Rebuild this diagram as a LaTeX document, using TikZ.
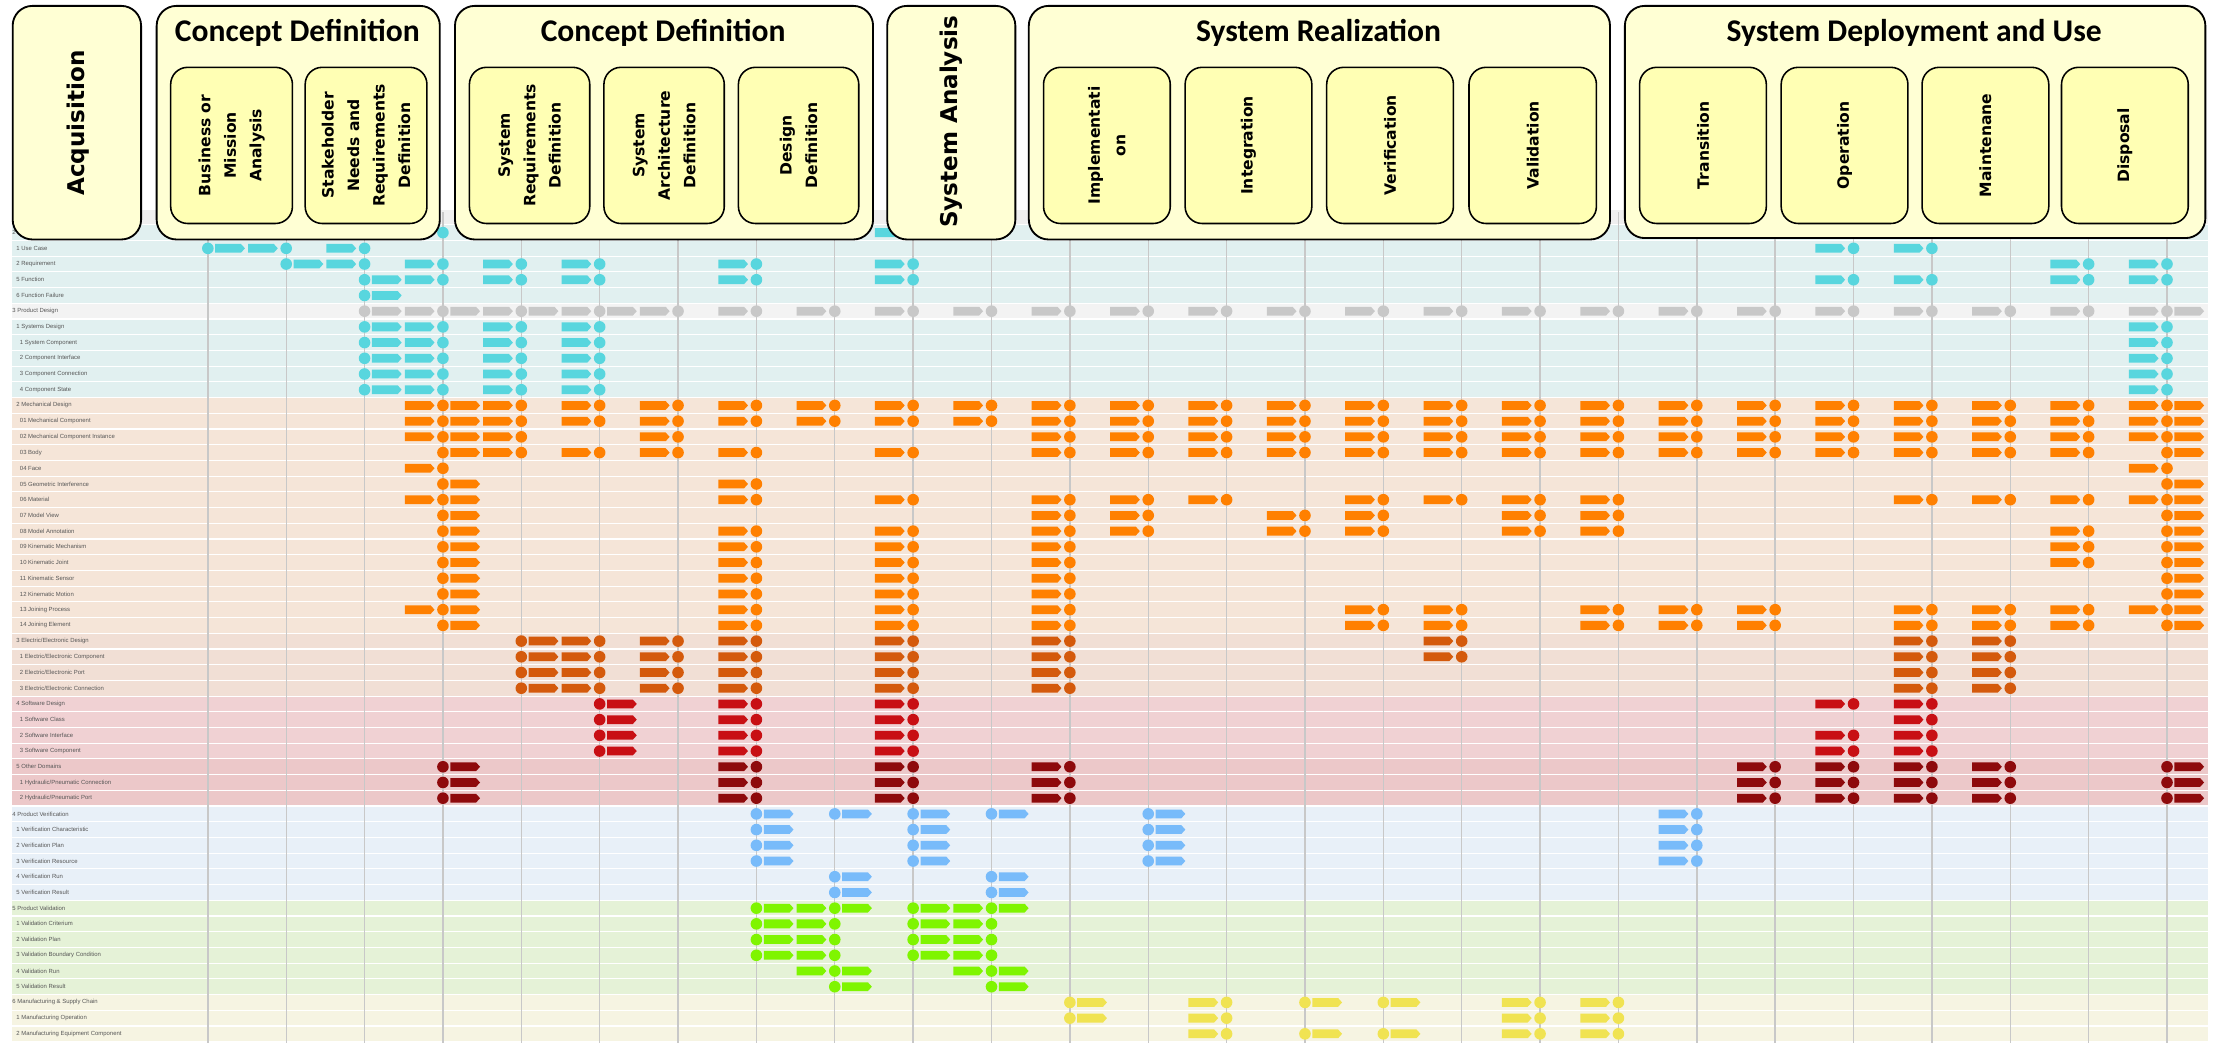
\documentclass[tikz,border=0pt]{standalone}
\usepackage{fontspec}
\setmainfont{Liberation Sans}
\newfontfamily\boxfont{DejaVu Sans}
\newfontfamily\titlefont{Carlito}
\newfontfamily\lblfont{Liberation Sans}

% marker colours
\definecolor{cyanM}{RGB}{88,214,222}
\definecolor{grayM}{RGB}{200,200,200}
\definecolor{orangeM}{RGB}{255,128,0}
\definecolor{eeM}{RGB}{212,90,12}
\definecolor{swM}{RGB}{200,15,20}
\definecolor{odM}{RGB}{142,10,12}
\definecolor{verM}{RGB}{120,187,250}
\definecolor{valM}{RGB}{127,245,0}
\definecolor{manM}{RGB}{240,227,82}
% band colours
\definecolor{bandTop}{RGB}{239,239,239}
\definecolor{bandReq}{RGB}{225,240,240}
\definecolor{bandPD}{RGB}{243,243,243}
\definecolor{bandMech}{RGB}{245,229,216}
\definecolor{bandEE}{RGB}{241,223,213}
\definecolor{bandSW}{RGB}{240,209,211}
\definecolor{bandOD}{RGB}{236,200,201}
\definecolor{bandVer}{RGB}{232,240,248}
\definecolor{bandVal}{RGB}{229,242,215}
\definecolor{bandMan}{RGB}{246,244,226}
% header and grid
\definecolor{boxOuter}{RGB}{255,255,212}
\definecolor{boxInner}{RGB}{255,255,180}
\definecolor{lineGray}{RGB}{200,200,200}
\definecolor{labelgray}{RGB}{85,85,85}

\tikzset{
  outerbox/.style={draw=black, line width=1.3pt, rounded corners=14pt, fill=boxOuter, inner sep=0pt},
  innerbox/.style={draw=black, line width=1.1pt, rounded corners=12pt, fill=boxInner, inner sep=0pt},
  phase/.style={rotate=90, align=center, inner sep=0pt,
    font=\boxfont\bfseries\fontsize{11}{18}\selectfont},
  bigphase/.style={rotate=90, inner sep=0pt,
    font=\boxfont\bfseries\fontsize{16.3}{19}\selectfont},
  grouptitle/.style={anchor=base, inner sep=0pt,
    font=\titlefont\bfseries\fontsize{22.3}{26}\selectfont},
  rowlabel/.style={anchor=west, inner sep=0pt, text=labelgray,
    font=\lblfont\fontsize{4.2}{5}\selectfont},
  vline/.style={draw=lineGray, line width=1pt},
}

% column positions of the grid
\newcommand\colx[1]{146.8+55.35*(#1)}
% markers: C = circle on a column, L/R = arrow in left/right half of a gap,
% P = right-half arrow followed by the circle on the next column
\newcommand\mkC[1]{\fill[mkcol] ({\colx{#1}},\ry) circle[radius=4.1];}
\newcommand\mkarrow[1]{\fill[mkcol] ({#1},{\ry-3.1}) -- ++(18.2,0) -- ++(2.8,3.1)
  -- ++(-2.8,3.1) -- ++(-18.2,0) -- cycle;}
\newcommand\mkL[1]{\mkarrow{\colx{#1}+5.2}}
\newcommand\mkR[1]{\mkarrow{\colx{#1}+28.4}}
\newcommand\mkP[1]{\mkR{#1}\mkC{\the\numexpr#1+1\relax}}
\def\mkparse#1#2\relax{\csname mk#1\endcsname{#2}}
\newcommand\mkrow[3]{\pgfmathsetmacro\ry{164.3+11.096*(#1)}%
  \colorlet{mkcol}{#2}%
  \foreach \tok in {#3}{\expandafter\mkparse\tok\relax}}
% background bands
\newcommand\bandrow[2]{\pgfmathsetmacro\by{164.3+11.096*(#1)}%
  \fill[#2] (8.8,{\by-5.15}) rectangle (1559.5,{\by+5.15});}
\newcommand\bands[3]{\foreach \rr in {#1,...,#2}{\bandrow{\rr}{#3}}}
% row captions
\newcommand\rowlab[3]{\pgfmathsetmacro\ly{164.3+11.096*(#1)}%
  \node[rowlabel] (lab#1) at (#2,\ly) {#3};}
% header boxes
\newcommand\hdrbox[6]{\node[#1, anchor=north west, minimum width={(#5-#3)*1pt},
  minimum height={(#6-#4)*1pt}] (#2) at (#3,#4) {};}

\begin{document}
\begin{tikzpicture}[x=1pt,y=-1pt]
\useasboundingbox (0,0) rectangle (1568,737);
\fill[white] (0,0) rectangle (1568,737);

% ---- bands
\bandrow{-1}{bandTop}
\bands{0}{4}{bandReq}
\bandrow{5}{bandPD}
\bands{6}{10}{bandReq}
\bands{11}{25}{bandMech}
\bands{26}{29}{bandEE}
\bands{30}{33}{bandSW}
\bands{34}{36}{bandOD}
\bands{37}{42}{bandVer}
\bands{43}{48}{bandVal}
\bands{49}{51}{bandMan}

% ---- column lines
\foreach \kk in {0,...,25}{\draw[vline] ({\colx{\kk}},150) -- ({\colx{\kk}},737);}

% ---- markers
\mkrow{0}{cyanM}{C0,L0,R0,C1,L1,R1,C2,L2,R2,C3,P3,P4,P6,P8,P20,P21,P23,P24}
\mkrow{1}{cyanM}{C0,L0,R0,C1,P1,P20,P21}
\mkrow{2}{cyanM}{C1,L1,R1,C2,P2,P3,P4,P6,P8,P23,P24}
\mkrow{3}{cyanM}{C2,L2,R2,C3,P3,P4,P6,P8,P20,P21,P23,P24}
\mkrow{4}{cyanM}{C2,L2}
\mkrow{5}{grayM}{C2,L2,R2,C3,L3,R3,C4,L4,R4,C5,L5,R5,C6,P6,P7,P8,P9,P10,P11,P12,P13,P14,P15,P16,P17,P18,P19,P20,P21,P22,P23,P24,L25}
\foreach \rw in {6,...,10}{\mkrow{\rw}{cyanM}{C2,L2,R2,C3,P3,P4,P24}}
\foreach \rw in {11,12}{\mkrow{\rw}{orangeM}{R2,C3,L3,P3,P4,P5,P6,P7,P8,P9,P10,P11,P12,P13,P14,P15,P16,P17,P18,P19,P20,P21,P22,P23,P24,L25}}
\mkrow{13}{orangeM}{R2,C3,L3,P3,P5,P10,P11,P12,P13,P14,P15,P16,P17,P18,P19,P20,P21,P22,P23,P24,L25}
\mkrow{14}{orangeM}{C3,L3,P3,P4,P5,P6,P8,P10,P11,P12,P13,P14,P15,P16,P17,P18,P19,P20,P21,P22,P23,C25,L25}
\mkrow{15}{orangeM}{R2,C3,P24}
\mkrow{16}{orangeM}{C3,L3,P6,C25,L25}
\mkrow{17}{orangeM}{R2,C3,L3,P6,P8,P10,P11,P12,P14,P15,P16,P17,P21,P22,P23,P24,L25}
\mkrow{18}{orangeM}{C3,L3,P10,P11,P13,P14,P16,P17,C25,L25}
\mkrow{19}{orangeM}{C3,L3,P6,P8,P10,P11,P13,P14,P16,P17,P23,C25,L25}
\foreach \rw in {20,21}{\mkrow{\rw}{orangeM}{C3,L3,P6,P8,P10,P23,C25,L25}}
\foreach \rw in {22,23}{\mkrow{\rw}{orangeM}{C3,L3,P6,P8,P10,C25,L25}}
\mkrow{24}{orangeM}{R2,C3,L3,P6,P8,P10,P14,P15,P17,P18,P19,P21,P22,P23,P24,L25}
\mkrow{25}{orangeM}{C3,L3,P6,P8,P10,P14,P15,P17,P18,P19,P21,P22,P23,C25,L25}
\foreach \rw in {26,27}{\mkrow{\rw}{eeM}{C4,L4,R4,C5,P5,P6,P8,P10,P15,P21,P22}}
\foreach \rw in {28,29}{\mkrow{\rw}{eeM}{C4,L4,R4,C5,P5,P6,P8,P10,P21,P22}}
\mkrow{30}{swM}{C5,L5,P6,P8,P20,P21}
\mkrow{31}{swM}{C5,L5,P6,P8,P21}
\foreach \rw in {32,33}{\mkrow{\rw}{swM}{C5,L5,P6,P8,P20,P21}}
\foreach \rw in {34,35,36}{\mkrow{\rw}{odM}{C3,L3,P6,P8,P10,P19,P20,P21,P22,C25,L25}}
\mkrow{37}{verM}{C7,L7,C8,L8,C9,L9,C10,L10,C12,L12,P18}
\foreach \rw in {38,39,40}{\mkrow{\rw}{verM}{C7,L7,C9,L9,C12,L12,P18}}
\foreach \rw in {41,42}{\mkrow{\rw}{verM}{C8,L8,C10,L10}}
\mkrow{43}{valM}{C7,L7,R7,C8,L8,C9,L9,R9,C10,L10}
\foreach \rw in {44,45,46}{\mkrow{\rw}{valM}{C7,L7,P7,C9,L9,P9}}
\mkrow{47}{valM}{P7,L8,P9,L10}
\mkrow{48}{valM}{C8,L8,C10,L10}
\mkrow{49}{manM}{C11,L11,P12,C14,L14,C15,L15,P16,P17}
\mkrow{50}{manM}{C11,L11,P12,P16,P17}
\mkrow{51}{manM}{P12,C14,L14,C15,L15,P16,P17}

% ---- row captions
\rowlab{0}{8.6}{2}
\rowlab{1}{11.4}{1 Use Case}
\rowlab{2}{11.4}{2 Requirement}
\rowlab{3}{11.4}{5 Function}
\rowlab{4}{11.4}{6 Function Failure}
\rowlab{5}{8.6}{3 Product Design}
\rowlab{6}{11.4}{1 Systems Design}
\rowlab{7}{13.9}{1 System Component}
\rowlab{8}{13.9}{2 Component Interface}
\rowlab{9}{13.9}{3 Component Connection}
\rowlab{10}{13.9}{4 Component State}
\rowlab{11}{11.4}{2 Mechanical Design}
\rowlab{12}{13.9}{01 Mechanical Component}
\rowlab{13}{13.9}{02 Mechanical Component Instance}
\rowlab{14}{13.9}{03 Body}
\rowlab{15}{13.9}{04 Face}
\rowlab{16}{13.9}{05 Geometric Interference}
\rowlab{17}{13.9}{06 Material}
\rowlab{18}{13.9}{07 Model View}
\rowlab{19}{13.9}{08 Model Annotation}
\rowlab{20}{13.9}{09 Kinematic Mechanism}
\rowlab{21}{13.9}{10 Kinematic Joint}
\rowlab{22}{13.9}{11 Kinematic Sensor}
\rowlab{23}{13.9}{12 Kinematic Motion}
\rowlab{24}{13.9}{13 Joining Process}
\rowlab{25}{13.9}{14 Joining Element}
\rowlab{26}{11.4}{3 Electric/Electronic Design}
\rowlab{27}{13.9}{1 Electric/Electronic Component}
\rowlab{28}{13.9}{2 Electric/Electronic Port}
\rowlab{29}{13.9}{3 Electric/Electronic Connection}
\rowlab{30}{11.4}{4 Software Design}
\rowlab{31}{13.9}{1 Software Class}
\rowlab{32}{13.9}{2 Software Interface}
\rowlab{33}{13.9}{3 Software Component}
\rowlab{34}{11.4}{5 Other Domains}
\rowlab{35}{13.9}{1 Hydraulic/Pneumatic Connection}
\rowlab{36}{13.9}{2 Hydraulic/Pneumatic Port}
\rowlab{37}{8.6}{4 Product Verification}
\rowlab{38}{11.4}{1 Verification Characteristic}
\rowlab{39}{11.4}{2 Verification Plan}
\rowlab{40}{11.4}{3 Verification Resource}
\rowlab{41}{11.4}{4 Verification Run}
\rowlab{42}{11.4}{5 Verification Result}
\rowlab{43}{8.6}{5 Product Validation}
\rowlab{44}{11.4}{1 Validation Criterium}
\rowlab{45}{11.4}{2 Validation Plan}
\rowlab{46}{11.4}{3 Validation Boundary Condition}
\rowlab{47}{11.4}{4 Validation Run}
\rowlab{48}{11.4}{5 Validation Result}
\rowlab{49}{8.6}{6 Manufacturing \& Supply Chain}
\rowlab{50}{11.4}{1 Manufacturing Operation}
\rowlab{51}{11.4}{2 Manufacturing Equipment Component}

% ---- header: life-cycle stages
\hdrbox{outerbox}{acq}{8.3}{3.5}{99}{168.5}
\hdrbox{outerbox}{cd1}{110}{3.5}{310}{168.5}
\hdrbox{outerbox}{cd2}{320.7}{3.5}{616}{168.5}
\hdrbox{outerbox}{san}{626}{3.5}{716.5}{168.5}
\hdrbox{outerbox}{srl}{726}{3.5}{1136.5}{168.5}
\hdrbox{outerbox}{sdu}{1147}{3.5}{1557}{167.5}

\node[bigphase] (t-acq) at (55,87) {Acquisition};
\node[bigphase] (t-san) at (671.5,86) {System Analysis};
\node[grouptitle] (t-cd1) at (210,29.5) {Concept Definition};
\node[grouptitle] (t-cd2) at (468.4,29.5) {Concept Definition};
\node[grouptitle] (t-srl) at (931.3,29.5) {System Realization};
\node[grouptitle] (t-sdu) at (1352,29.5) {System Deployment and Use};

% ---- header: processes
\hdrbox{innerbox}{bma}{120}{47}{206}{157.3}
\hdrbox{innerbox}{snr}{215}{47}{301}{157.3}
\hdrbox{innerbox}{srd}{331}{47}{416}{157.3}
\hdrbox{innerbox}{sad}{426}{47}{511}{157.3}
\hdrbox{innerbox}{dd}{521}{47}{606}{157.3}
\hdrbox{innerbox}{imp}{736.5}{47}{826}{157.3}
\hdrbox{innerbox}{int}{836.5}{47}{926}{157.3}
\hdrbox{innerbox}{ver}{936.5}{47}{1026}{157.3}
\hdrbox{innerbox}{val}{1037}{47}{1127}{157.3}
\hdrbox{innerbox}{tra}{1157.5}{47}{1247}{157.3}
\hdrbox{innerbox}{ope}{1257.5}{47}{1347}{157.3}
\hdrbox{innerbox}{mai}{1357}{47}{1446.5}{157.3}
\hdrbox{innerbox}{dis}{1455.5}{47}{1545}{157.3}

\node[phase] (t-bma) at (bma.center) {Business or\\Mission\\Analysis};
\node[phase] (t-snr) at (snr.center) {Stakeholder\\Needs and\\Requirements\\Definition};
\node[phase] (t-srd) at (srd.center) {System\\Requirements\\Definition};
\node[phase] (t-sad) at (sad.center) {System\\Architecture\\Definition};
\node[phase] (t-dd) at (dd.center) {Design\\Definition};
\node[phase] (t-imp) at (imp.center) {Implementati\\on};
\node[phase] (t-int) at (int.center) {Integration};
\node[phase] (t-ver) at (ver.center) {Verification};
\node[phase] (t-val) at (val.center) {Validation};
\node[phase] (t-tra) at (tra.center) {Transition};
\node[phase] (t-ope) at (ope.center) {Operation};
\node[phase] (t-mai) at (mai.center) {Maintenane};
\node[phase] (t-dis) at (dis.center) {Disposal};
\end{tikzpicture}
\end{document}
